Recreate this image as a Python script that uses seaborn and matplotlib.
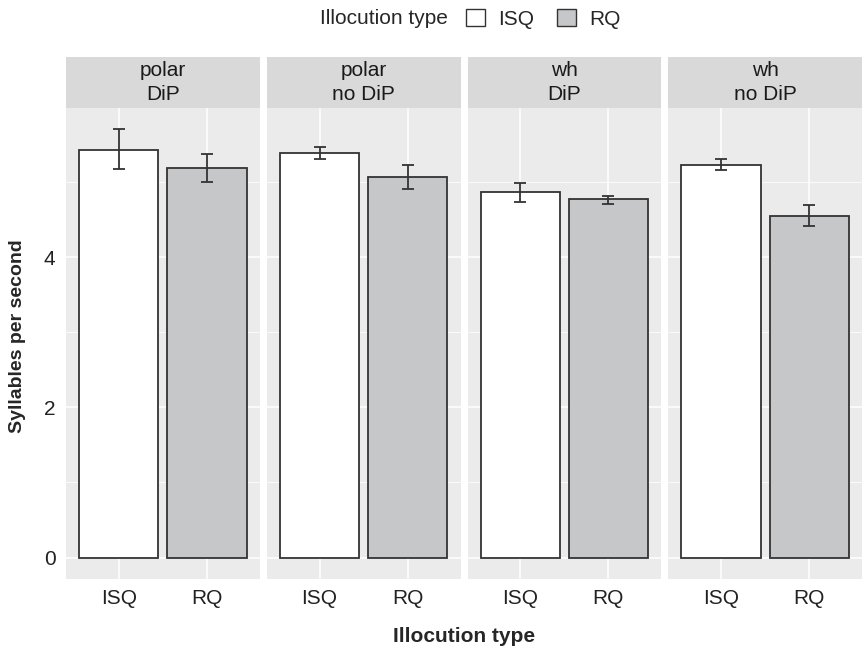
import numpy as np
import pandas as pd
import matplotlib
matplotlib.use('Agg')
import matplotlib.pyplot as plt
from matplotlib.patches import Patch, Rectangle
import seaborn as sns

# ── DATA ──────────────────────────────────────────────────
PANELS = ['polar\nDiP', 'polar\nno DiP', 'wh\nDiP', 'wh\nno DiP']
ILLOCUTION = ['ISQ', 'RQ']
ISQ_MEAN = [5.43, 5.39, 4.87, 5.23]
ISQ_LOW  = [5.17, 5.31, 4.74, 5.16]
ISQ_HIGH = [5.70, 5.46, 4.99, 5.30]
RQ_MEAN  = [5.19, 5.07, 4.77, 4.55]
RQ_LOW   = [5.00, 4.91, 4.71, 4.41]
RQ_HIGH  = [5.37, 5.22, 4.81, 4.70]
Y_TICKS = [0, 2, 4]

df = pd.DataFrame({
    'panel': PANELS * 2,
    'type': ['ISQ'] * 4 + ['RQ'] * 4,
    'mean': ISQ_MEAN + RQ_MEAN,
    'low': ISQ_LOW + RQ_LOW,
    'high': ISQ_HIGH + RQ_HIGH,
})

# ── STYLE ─────────────────────────────────────────────────
sns.set_style('white')
plt.rcParams['font.family'] = ['Liberation Sans', 'DejaVu Sans']
FS = 15
COLORS = {'ISQ': '#FFFFFF', 'RQ': '#C6C7C9'}
EDGE = '#333333'
PANEL_BG = '#EBEBEB'
STRIP_BG = '#D9D9D9'

W, H = 863, 650
fig = plt.figure(figsize=(W / 100, H / 100), dpi=100)

left0, right_end, gap = 66, 862, 7
pw = (right_end - left0 - 3 * gap) / 4
top, bottom, strip_top = 108, 579, 57
ymax_data = max(ISQ_HIGH + RQ_HIGH)
ylim = (-0.05 * ymax_data, ymax_data * 1.05)

for i, panel in enumerate(PANELS):
    x0 = left0 + i * (pw + gap)
    ax = fig.add_axes([x0 / W, (H - bottom) / H, pw / W, (bottom - top) / H])
    ax.set_facecolor(PANEL_BG)
    sub = df[df['panel'] == panel]
    sns.barplot(data=sub, x='type', y='mean', hue='type', order=ILLOCUTION,
                palette=COLORS, edgecolor=EDGE, linewidth=1.3, width=0.9,
                errorbar=None, legend=False, ax=ax, zorder=3)
    ax.errorbar(np.arange(len(ILLOCUTION)), sub['mean'],
                yerr=[sub['mean'] - sub['low'], sub['high'] - sub['mean']],
                fmt='none', ecolor=EDGE, elinewidth=1.3, capsize=4,
                capthick=1.3, zorder=4)
    ax.set_xlim(-0.6, 1.6)
    ax.set_ylim(*ylim)
    # grid: major and minor
    for y in Y_TICKS:
        ax.axhline(y, color='white', lw=1.1, zorder=1)
    for y in [1, 3, 5]:
        ax.axhline(y, color='white', lw=0.55, zorder=1)
    for x in range(len(ILLOCUTION)):
        ax.axvline(x, color='white', lw=1.1, zorder=1)
    for s in ax.spines.values():
        s.set_visible(False)
    ax.set_xlabel('')
    ax.set_ylabel('')
    ax.tick_params(axis='both', length=3.5, width=0.8, color='#333333',
                   labelsize=FS, labelcolor='#222222', pad=4)
    ax.set_yticks(Y_TICKS)
    if i > 0:
        ax.tick_params(axis='y', left=False, labelleft=False)
    # strip
    fig.patches.append(Rectangle((x0 / W, (H - top) / H), pw / W,
                                 (top - strip_top) / H, transform=fig.transFigure,
                                 facecolor=STRIP_BG, edgecolor='none'))
    fig.text((x0 + pw / 2) / W, (H - (top + strip_top) / 2) / H, panel,
             ha='center', va='center', fontsize=FS, color='#1A1A1A',
             linespacing=1.4)

fig.text(18 / W, (H - 336) / H, 'Syllables per second',
         rotation=90, ha='center', va='center', fontsize=14, fontweight='bold')
fig.text((left0 + right_end) / 2 / W, (H - 637) / H, 'Illocution type',
         ha='center', va='center', fontsize=FS, fontweight='bold')

# legend on top
handles = [Patch(facecolor=COLORS[t], edgecolor=EDGE, linewidth=1.0) for t in ILLOCUTION]
fig.text(448 / W, (H - 19) / H, 'Illocution type', ha='right', va='center', fontsize=FS)
fig.legend(handles, ILLOCUTION, loc='center left', bbox_to_anchor=(466 / W, (H - 19) / H),
           ncol=2, frameon=False, fontsize=FS, handlelength=0.9, handleheight=0.85,
           handletextpad=0.65, columnspacing=1.1, borderpad=0, borderaxespad=0)

plt.savefig('out.png', dpi=100, facecolor='white')
